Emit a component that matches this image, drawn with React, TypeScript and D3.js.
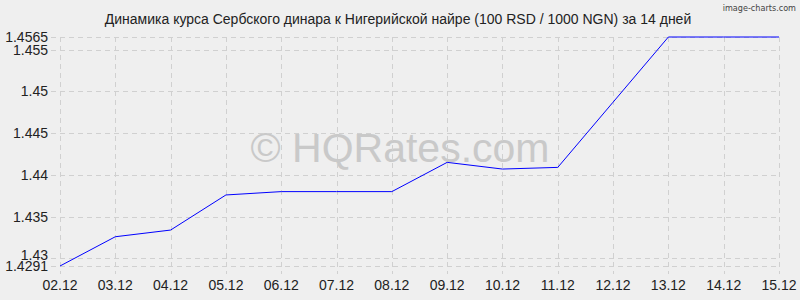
import React from "react";
import * as d3 from "d3";

const dates = ["02.12","03.12","04.12","05.12","06.12","07.12","08.12","09.12","10.12","11.12","12.12","13.12","14.12","15.12"];
const rates = [1.4291,1.4326,1.4334,1.4376,1.4380,1.4380,1.4380,1.4415,1.4407,1.4409,1.4487,1.4565,1.4565,1.4565];
const yTicks = [1.43,1.435,1.44,1.445,1.45,1.455];
const yMin = 1.4291;
const yMax = 1.4565;
const title = "Динамика курса Сербского динара к Нигерийской найре (100 RSD / 1000 NGN) за 14 дней";

export default function App() {
  const W = 800, H = 300;
  const left = 60, right = 779, top = 37, bottom = 266;
  const x = d3.scalePoint<string>().domain(dates).range([left, right]);
  const y = d3.scaleLinear().domain([yMin, yMax]).range([bottom, top]);
  const line = d3.line<number>().x((_, i) => x(dates[i])!).y(d => y(d));
  const font = "Arial, 'Liberation Sans', sans-serif";
  const gridStyle = { stroke: "#d0d0d0", strokeDasharray: "5,4", strokeWidth: 1 };
  const allY = [yMin, ...yTicks, yMax];
  return (
    <svg width={W} height={H} style={{ position: "absolute", left: 0, top: 0, background: "#efefef" }}>
      <rect x={0} y={0} width={W} height={H} fill="#efefef" />
      <text x={398} y={24} textAnchor="middle" fontFamily={font} fontSize={14} fill="#222">{title}</text>
      <text x={796} y={11} textAnchor="end" fontFamily="'DejaVu Sans Condensed', 'DejaVu Sans', sans-serif" fontSize={9} fill="#444">image-charts.com</text>
      <text x={400} y={162} textAnchor="middle" fontFamily={font} fontSize={41} fill="#c9c9c9">© HQRates.com</text>
      {allY.map((v, i) => (
        <line key={"h" + i} x1={left - 9} x2={right} y1={Math.round(y(v)) + 0.5} y2={Math.round(y(v)) + 0.5} style={gridStyle} />
      ))}
      {dates.map((d, i) => (
        <line key={"v" + i} x1={Math.round(x(d)!) + 0.5} x2={Math.round(x(d)!) + 0.5} y1={top} y2={bottom + 8} style={gridStyle} />
      ))}
      <path d={line(rates)!} fill="none" stroke="#0000ff" strokeWidth={1} />
      {allY.map((v, i) => (
        <text key={"yl" + i} x={48} y={y(v) + 5 + (v === 1.43 ? -3 : 0)} textAnchor="end" fontFamily={font} fontSize={14} fill="#222">{String(v)}</text>
      ))}
      {dates.map((d, i) => (
        <text key={"xl" + i} x={x(d)!} y={290} textAnchor="middle" fontFamily={font} fontSize={14} fill="#222">{d}</text>
      ))}
    </svg>
  );
}
